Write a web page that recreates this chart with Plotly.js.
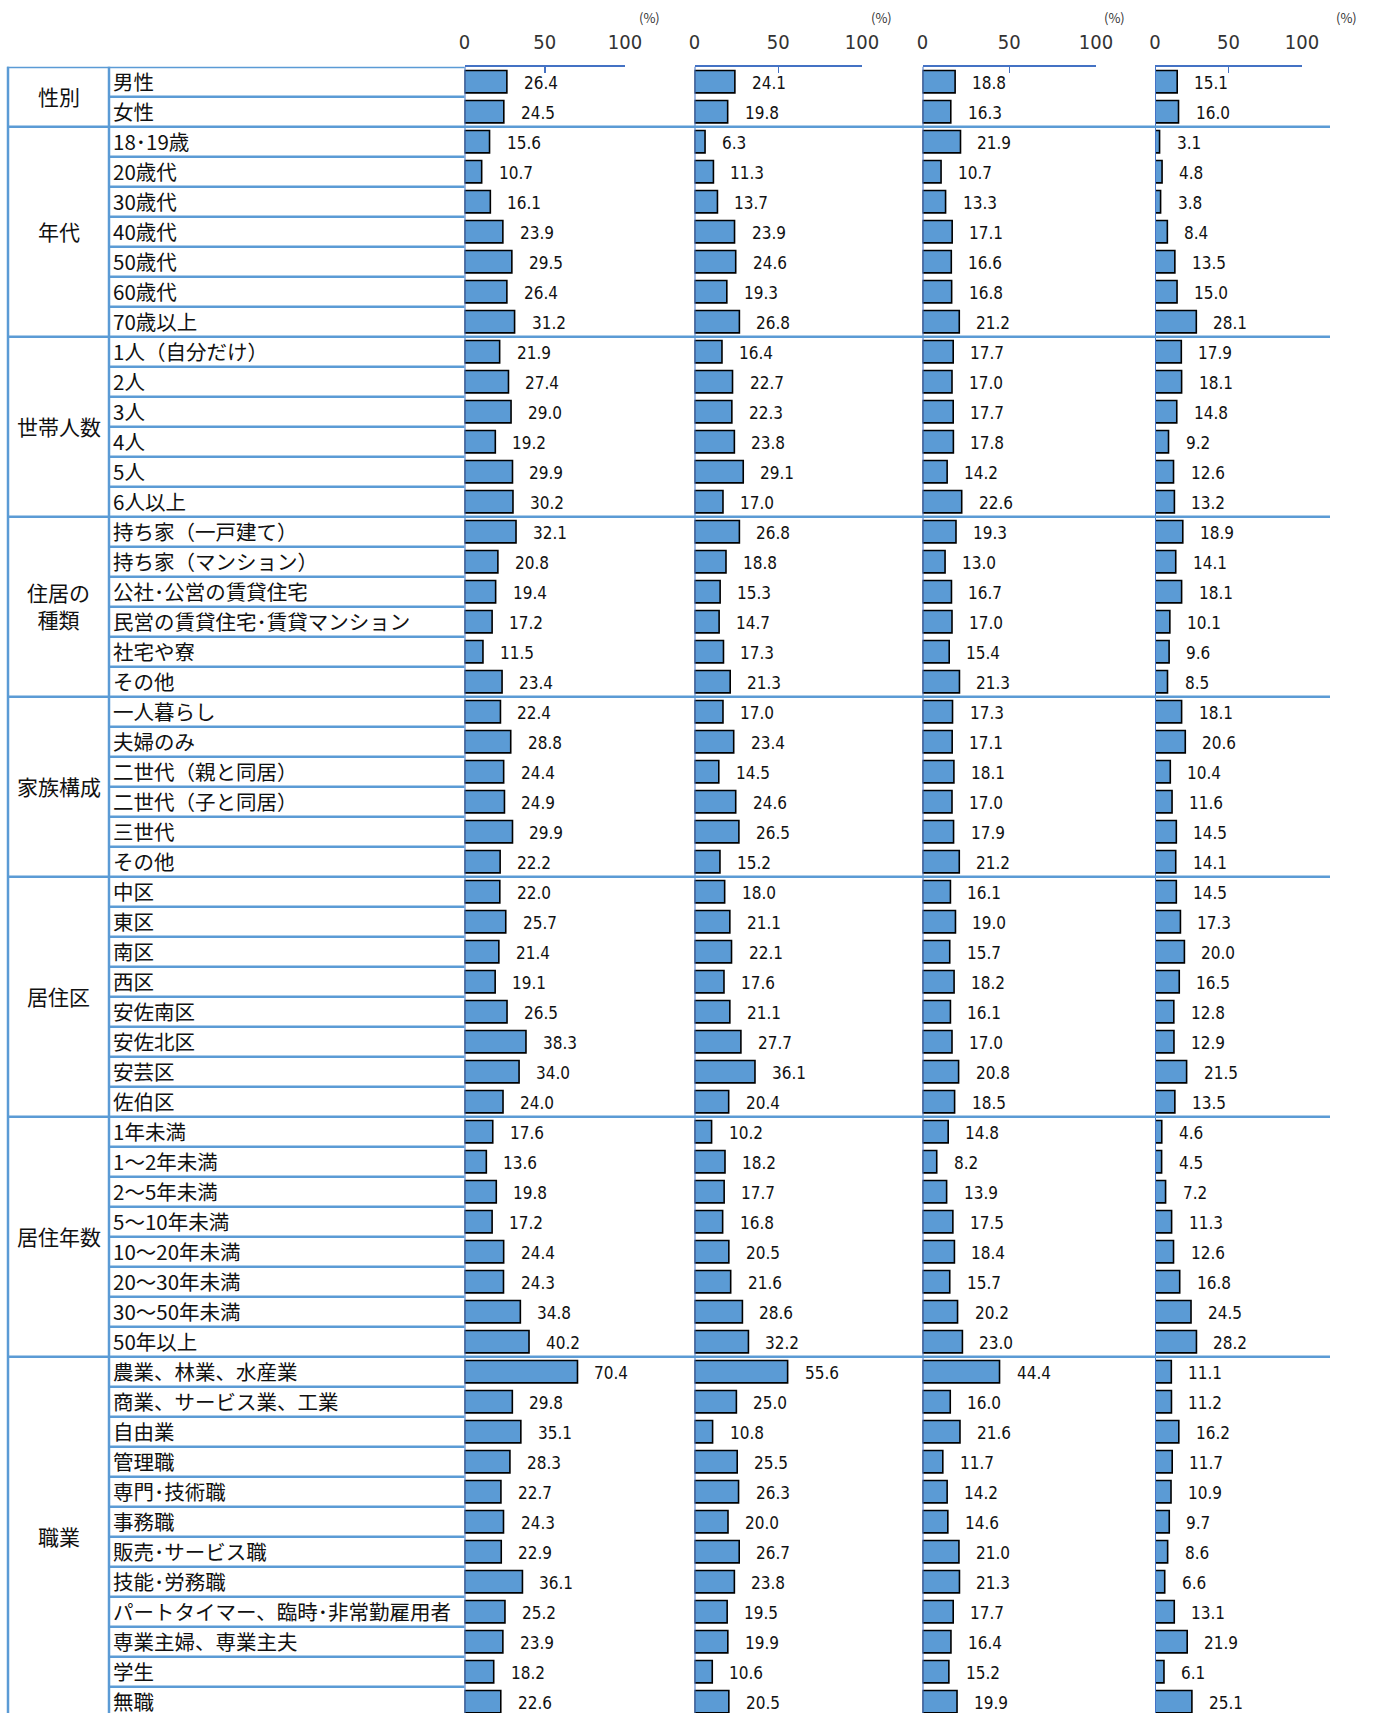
<!DOCTYPE html>
<html><head><meta charset="utf-8">
<script src="https://cdn.plot.ly/plotly-3.0.1.min.js"></script>
<style>html,body{margin:0;padding:0;background:#fff;} #chart{width:1377px;height:1713px;}</style>
</head><body><div id="chart"></div>
<script>
// ---------------- data ----------------
const groupNames = ['性別', '年代', '世帯人数', '住居の<br>種類', '家族構成', '居住区', '居住年数', '職業'];
const groupSex = ['男性', '女性'];
const groupAge = ['18･19歳', '20歳代', '30歳代', '40歳代', '50歳代', '60歳代', '70歳以上'];
const groupHousehold = ['1人（自分だけ）', '2人', '3人', '4人', '5人', '6人以上'];
const groupHousing = ['持ち家（一戸建て）', '持ち家（マンション）', '公社･公営の賃貸住宅', '民営の賃貸住宅･賃貸マンション', '社宅や寮', 'その他'];
const groupFamily = ['一人暮らし', '夫婦のみ', '二世代（親と同居）', '二世代（子と同居）', '三世代', 'その他'];
const groupWard = ['中区', '東区', '南区', '西区', '安佐南区', '安佐北区', '安芸区', '佐伯区'];
const groupYears = ['1年未満', '1～2年未満', '2～5年未満', '5～10年未満', '10～20年未満', '20～30年未満', '30～50年未満', '50年以上'];
const groupJob = ['農業、林業、水産業', '商業、サービス業、工業', '自由業', '管理職', '専門･技術職', '事務職', '販売･サービス職', '技能･労務職', 'パートタイマー、臨時･非常勤雇用者', '専業主婦、専業主夫', '学生', '無職'];

const values1 = [26.4, 24.5,
  15.6, 10.7, 16.1, 23.9, 29.5, 26.4, 31.2,
  21.9, 27.4, 29.0, 19.2, 29.9, 30.2,
  32.1, 20.8, 19.4, 17.2, 11.5, 23.4,
  22.4, 28.8, 24.4, 24.9, 29.9, 22.2,
  22.0, 25.7, 21.4, 19.1, 26.5, 38.3, 34.0, 24.0,
  17.6, 13.6, 19.8, 17.2, 24.4, 24.3, 34.8, 40.2,
  70.4, 29.8, 35.1, 28.3, 22.7, 24.3, 22.9, 36.1, 25.2, 23.9, 18.2, 22.6];
const values2 = [24.1, 19.8,
  6.3, 11.3, 13.7, 23.9, 24.6, 19.3, 26.8,
  16.4, 22.7, 22.3, 23.8, 29.1, 17.0,
  26.8, 18.8, 15.3, 14.7, 17.3, 21.3,
  17.0, 23.4, 14.5, 24.6, 26.5, 15.2,
  18.0, 21.1, 22.1, 17.6, 21.1, 27.7, 36.1, 20.4,
  10.2, 18.2, 17.7, 16.8, 20.5, 21.6, 28.6, 32.2,
  55.6, 25.0, 10.8, 25.5, 26.3, 20.0, 26.7, 23.8, 19.5, 19.9, 10.6, 20.5];
const values3 = [18.8, 16.3,
  21.9, 10.7, 13.3, 17.1, 16.6, 16.8, 21.2,
  17.7, 17.0, 17.7, 17.8, 14.2, 22.6,
  19.3, 13.0, 16.7, 17.0, 15.4, 21.3,
  17.3, 17.1, 18.1, 17.0, 17.9, 21.2,
  16.1, 19.0, 15.7, 18.2, 16.1, 17.0, 20.8, 18.5,
  14.8, 8.2, 13.9, 17.5, 18.4, 15.7, 20.2, 23.0,
  44.4, 16.0, 21.6, 11.7, 14.2, 14.6, 21.0, 21.3, 17.7, 16.4, 15.2, 19.9];
const values4 = [15.1, 16.0,
  3.1, 4.8, 3.8, 8.4, 13.5, 15.0, 28.1,
  17.9, 18.1, 14.8, 9.2, 12.6, 13.2,
  18.9, 14.1, 18.1, 10.1, 9.6, 8.5,
  18.1, 20.6, 10.4, 11.6, 14.5, 14.1,
  14.5, 17.3, 20.0, 16.5, 12.8, 12.9, 21.5, 13.5,
  4.6, 4.5, 7.2, 11.3, 12.6, 16.8, 24.5, 28.2,
  11.1, 11.2, 16.2, 11.7, 10.9, 9.7, 8.6, 6.6, 13.1, 21.9, 6.1, 25.1];

const tickValues = [0, 50, 100];
const tickLabels = ['0', '50', '100'];
const unitLabel = '(%)';

// ---------------- layout helpers ----------------
const W = 1377, H = 1713;
const TOP = 66.7, ROW = 30;
const px = v => v / W;
const py = v => 1 - v / H;
const yTopPaper = py(TOP);
const yBottom = -0.5 + (H - TOP) / ROW;

const groupItems = [groupSex, groupAge, groupHousehold, groupHousing, groupFamily, groupWard, groupYears, groupJob];
const categories = groupItems.flat();
const rowIdx = categories.map((_, i) => i);

const LINE_TABLE = '#5B9BD5';
const LINE_AXIS = '#4472C4';
const JP = '"Noto Sans CJK JP", "Noto Sans", sans-serif';
const NUM = '"DejaVu Sans Condensed", "Liberation Sans Narrow", "Roboto Condensed", "DejaVu Sans", sans-serif';

const panels = [
  { vals: values1, x0: 464.5, x1: 625, unitX: 649 },
  { vals: values2, x0: 694.5, x1: 862, unitX: 881 },
  { vals: values3, x0: 922.5, x1: 1096, unitX: 1114 },
  { vals: values4, x0: 1155, x1: 1302, unitX: 1346 }
];

const traces = [];
const shapes = [];
const annotations = [];
const layout = {
  width: W, height: H,
  margin: { l: 0, r: 0, t: 0, b: 0, pad: 0 },
  paper_bgcolor: '#fff', plot_bgcolor: 'rgba(0,0,0,0)',
  showlegend: false,
  barmode: 'overlay',
  bargap: 0.255,
  yaxis: {
    domain: [0, yTopPaper], range: [yBottom, -0.5],
    showticklabels: false, showgrid: false, zeroline: false, showline: false, ticks: '', fixedrange: true
  }
};

panels.forEach((p, k) => {
  const axName = k === 0 ? 'x' : 'x' + (k + 1);
  const axKey = k === 0 ? 'xaxis' : 'xaxis' + (k + 1);
  traces.push({
    type: 'bar', orientation: 'h',
    x: p.vals, y: rowIdx,
    xaxis: axName, yaxis: 'y',
    marker: { color: '#5B9BD5', line: { color: '#000000', width: 1.6 } },
    hoverinfo: 'skip'
  });
  layout[axKey] = {
    domain: [px(p.x0), px(p.x1)], range: [0, 100], anchor: 'y', side: 'top',
    tickmode: 'array', tickvals: tickValues, ticktext: tickLabels,
    showline: true, linecolor: LINE_AXIS, linewidth: 1.5,
    ticks: 'inside', ticklen: 6, tickwidth: 1.5, tickcolor: LINE_AXIS,
    ticklabelstandoff: 8,
    showgrid: false, zeroline: false, fixedrange: true,
    tickfont: { family: NUM, size: 20, color: '#333' }
  };
  // zero axis line
  shapes.push({ type: 'line', xref: axName, yref: 'paper', x0: 0, x1: 0, y0: 0, y1: yTopPaper,
    line: { color: LINE_AXIS, width: 2 }, layer: 'above' });
  // unit label
  annotations.push({ xref: 'paper', yref: 'paper', x: px(p.unitX), y: py(17.5), text: unitLabel,
    showarrow: false, xanchor: 'center', yanchor: 'middle', font: { family: JP, size: 13, color: '#333' } });
  // value labels
  p.vals.forEach((v, i) => {
    annotations.push({ xref: axName, yref: 'y', x: v, y: i, text: v.toFixed(1), showarrow: false,
      xanchor: 'left', yanchor: 'middle', xshift: 15, yshift: -1,
      font: { family: NUM, size: 17, color: '#111' } });
  });
});

// table structure
const tableLeft = 8, groupRight = 109, labelRight = 464.5, sepRight = 1330;
shapes.push({ type: 'line', xref: 'paper', yref: 'paper', x0: px(tableLeft), x1: px(tableLeft), y0: 0, y1: yTopPaper,
  line: { color: LINE_TABLE, width: 2.5 } });
shapes.push({ type: 'line', xref: 'paper', yref: 'paper', x0: px(groupRight), x1: px(groupRight), y0: 0, y1: yTopPaper,
  line: { color: LINE_TABLE, width: 2.5 } });
shapes.push({ type: 'line', xref: 'paper', yref: 'y', x0: px(tableLeft - 1), x1: px(labelRight), y0: -0.5, y1: -0.5,
  line: { color: LINE_TABLE, width: 3 } });

let start = 0;
groupItems.forEach((items, g) => {
  const end = start + items.length - 1;
  annotations.push({ xref: 'paper', yref: 'y', x: px((tableLeft + groupRight) / 2), y: (start + end) / 2,
    text: groupNames[g], showarrow: false, xanchor: 'center', yanchor: 'middle', yshift: 1,
    font: { family: JP, size: 21, color: '#111' } });
  items.forEach((label, j) => {
    const i = start + j;
    annotations.push({ xref: 'paper', yref: 'y', x: px(111), y: i, text: label, showarrow: false,
      xanchor: 'left', yanchor: 'middle', yshift: 1, font: { family: JP, size: 20.5, color: '#111' } });
    if (i < end) {
      shapes.push({ type: 'line', xref: 'paper', yref: 'y', x0: px(groupRight), x1: px(labelRight), y0: i + 0.5, y1: i + 0.5,
        line: { color: LINE_TABLE, width: 2.5 } });
    }
  });
  shapes.push({ type: 'line', xref: 'paper', yref: 'y', x0: px(tableLeft), x1: px(sepRight), y0: end + 0.5, y1: end + 0.5,
    line: { color: LINE_TABLE, width: 2.5 }, layer: 'above' });
  start = end + 1;
});

layout.shapes = shapes;
layout.annotations = annotations;

Plotly.newPlot('chart', traces, layout, { displayModeBar: false, staticPlot: true });
</script>
</body></html>
